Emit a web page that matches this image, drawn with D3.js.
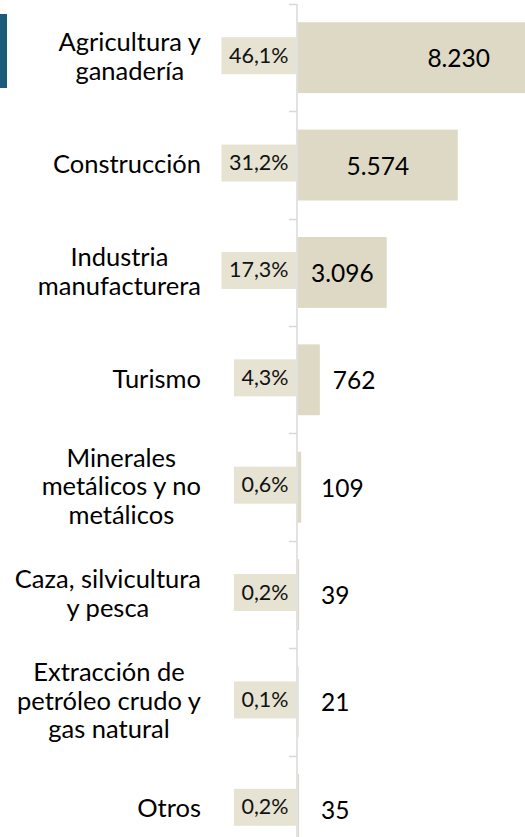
<!DOCTYPE html>
<html>
<head>
<meta charset="utf-8">
<script src="https://cdn.jsdelivr.net/npm/d3@7"></script>
<style>
  body { margin: 0; background: #fff; }
  svg { display: block; font-family: Lato, "Open Sans", sans-serif; }
</style>
</head>
<body>
<svg id="chart"></svg>
<script>
// sectores (lineas partidas como en el original)
var sectores = [
  ["Agricultura y", "ganadería"],
  ["Construcción"],
  ["Industria", "manufacturera"],
  ["Turismo"],
  ["Minerales", "metálicos y no", "metálicos"],
  ["Caza, silvicultura", "y pesca"],
  ["Extracción de", "petróleo crudo y", "gas natural"],
  ["Otros"]
];
var valores = [8230, 5574, 3096, 762, 109, 39, 21, 35];
var porcentajes = ["46,1%", "31,2%", "17,3%", "4,3%", "0,6%", "0,2%", "0,1%", "0,2%"];

var screen = {width: 525, height: 837};
var axisX = 297;
var labelRight = 201;

var svg = d3.select("#chart")
    .attr("width", screen.width)
    .attr("height", screen.height);

var data = valores.map(function(v, i){
    return {id: i, lines: sectores[i], value: v, pct: porcentajes[i]};
});

var yScale = d3.scaleBand()
    .domain(data.map(function(d){ return d.id; }))
    .range([4, 863])
    .paddingInner(0.34)
    .paddingOuter(0.17);

var xScale = d3.scaleLinear()
    .domain([0, 9000])
    .range([axisX + 1, axisX + 1 + 257.9]);

var step = yScale.step();
var bw = yScale.bandwidth();
function center(d){ return yScale(d.id) + bw / 2; }

// barra azul decorativa a la izquierda
svg.append("rect")
    .attr("x", 0)
    .attr("y", 14)
    .attr("width", 7)
    .attr("height", 74)
    .attr("fill", "#1b5a78");

// barras
svg.append("g")
    .selectAll("rect")
    .data(data)
    .enter()
    .append("rect")
    .attr("x", xScale(0))
    .attr("y", function(d){ return yScale(d.id); })
    .attr("width", function(d){ return xScale(d.value) - xScale(0); })
    .attr("height", bw)
    .attr("fill", "#ddd9c4");

// eje vertical y marcas
var axis = svg.append("g").attr("id", "axis");
axis.append("line")
    .attr("x1", axisX).attr("x2", axisX)
    .attr("y1", 4).attr("y2", screen.height)
    .attr("stroke", "#d9d9d9")
    .attr("stroke-width", 1.5);

var bounds = data.map(function(d){ return yScale(d.id) - step * 0.17; });
bounds.push(yScale(data[data.length - 1].id) + bw + step * 0.17);
axis.selectAll(".tick")
    .data(bounds)
    .enter()
    .append("line")
    .attr("class", "tick")
    .attr("x1", axisX - 8).attr("x2", axisX)
    .attr("y1", function(b){ return Math.round(b) + 0.5; })
    .attr("y2", function(b){ return Math.round(b) + 0.5; })
    .attr("stroke", "#d9d9d9")
    .attr("stroke-width", 1.5);

// etiquetas de porcentaje en cajas
var pg = svg.append("g")
    .selectAll("g")
    .data(data)
    .enter()
    .append("g");

pg.append("text")
    .attr("class", "pct")
    .attr("text-anchor", "middle")
    .attr("font-size", 21.5)
    .attr("fill", "#111")
    .text(function(d){ return d.pct; });

pg.each(function(d){
    var g = d3.select(this);
    var t = g.select("text");
    var w = t.node().getComputedTextLength() + 15;
    var cy = center(d) - 2;
    g.insert("rect", "text")
        .attr("x", axisX - 1 - w)
        .attr("y", cy - 18.5)
        .attr("width", w)
        .attr("height", 37)
        .attr("fill", "#e6e3d3");
    t.attr("x", axisX - 1 - w / 2)
        .attr("y", cy + 7);
});

// etiquetas de valor
svg.append("g")
    .selectAll("text")
    .data(data)
    .enter()
    .append("text")
    .attr("font-size", 24.5)
    .attr("fill", "#000")
    .attr("y", function(d){ return center(d) + 9.5; })
    .each(function(d){
        var end = xScale(d.value);
        var t = d3.select(this);
        if (end > screen.width) {
            t.attr("text-anchor", "end").attr("x", screen.width - 35);
        } else if (end - xScale(0) > 60) {
            t.attr("text-anchor", "middle").attr("x", (xScale(0) + end) / 2);
        } else {
            t.attr("text-anchor", "start").attr("x", Math.max(end + 13, 321));
        }
    })
    .text(function(d){ return d3.format(",")(d.value).replace(/,/g, "."); });

// etiquetas de categoria: bloque alineado a la derecha, lineas centradas
var lineH = 28.5;
var cg = svg.append("g")
    .selectAll("g")
    .data(data)
    .enter()
    .append("g");

cg.each(function(d){
    var g = d3.select(this);
    var n = d.lines.length;
    var texts = g.selectAll("text")
        .data(d.lines)
        .enter()
        .append("text")
        .attr("font-size", 25.5)
        .attr("fill", "#000")
        .attr("text-anchor", "middle")
        .attr("y", function(l, i){ return center(d) + 8 + (i - (n - 1) / 2) * lineH; })
        .text(function(l){ return l; });
    var maxW = 0;
    texts.each(function(){ maxW = Math.max(maxW, this.getComputedTextLength()); });
    texts.attr("x", labelRight - maxW / 2);
});
</script>
</body>
</html>
